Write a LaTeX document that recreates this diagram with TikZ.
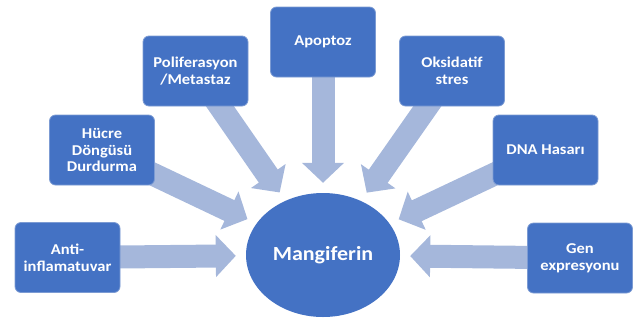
\documentclass[tikz,border=0pt]{standalone}
\usepackage{fontspec}
\setmainfont{Carlito}[FakeStretch=1.1]
\usetikzlibrary{shapes.geometric,arrows.meta,backgrounds}
\definecolor{boxblue}{HTML}{4472C4}
\definecolor{boxedge}{HTML}{7C9BD3}
\definecolor{arrowblue}{HTML}{A5B7DB}
\begin{document}
\begin{tikzpicture}[x=1pt,y=-1pt,
  box/.style={draw=boxedge, line width=0.8pt, fill=boxblue, rounded corners=6pt,
    minimum width=105pt, minimum height=70pt, text=white,
    font=\bfseries\fontsize{15}{16.8}\selectfont, align=center, inner sep=2pt},
  hub/.style={ellipse, fill=boxblue, minimum width=154pt, minimum height=124pt,
    text=white, font=\bfseries\fontsize{20}{24}\selectfont, inner sep=0pt},
  bigarrow/.style={arrowblue, line width=23pt,
    -{Triangle[width=41pt,length=20pt]}, shorten >=10pt}]
\useasboundingbox (0,0) rectangle (637,322);
\node[hub] (mang) at (323,255) {Mangiferin};
\node[box] (anti) at (67.5,257.5) {Anti-\\inflamatuvar};
\node[box] (hucre) at (102,150) {Hücre\\Döngüsü\\Durdurma};
\node[box] (poli) at (195.5,71) {Poliferasyon\\/Metastaz};
\node[box] (apop) at (323,42) {Apoptoz};
\node[box] (oks) at (452,71) {Oksidatif\\stres};
\node[box] (dna) at (545.5,150) {DNA Hasarı};
\node[box] (gen) at (580,258) {Gen\\expresyonu};
\begin{pgfonlayer}{background}
  \foreach \s in {anti,hucre,poli,apop,oks,dna,gen}
    \draw[bigarrow] (\s.center) -- (mang);
\end{pgfonlayer}
\end{tikzpicture}
\end{document}
